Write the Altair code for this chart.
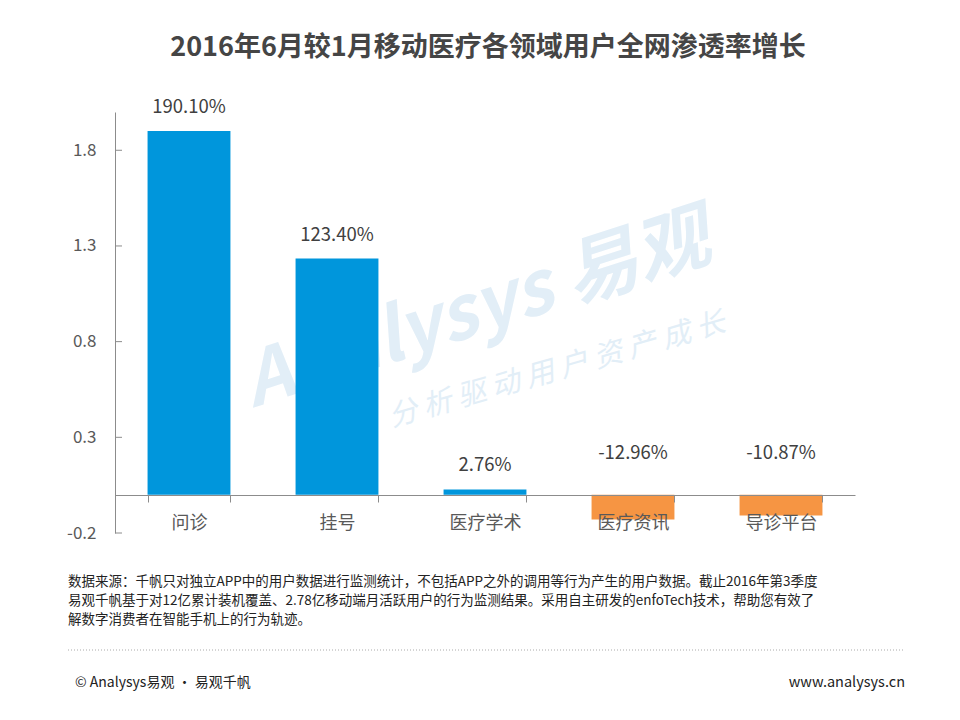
import altair as alt
import pandas as pd

# ---- data ----
categories = ["问诊", "挂号", "医疗学术", "医疗资讯", "导诊平台"]
values = [1.901, 1.234, 0.0276, -0.1296, -0.1087]
labels = ["190.10%", "123.40%", "2.76%", "-12.96%", "-10.87%"]
y_ticks = [-0.2, 0.3, 0.8, 1.3, 1.8]

title_text = "2016年6月较1月移动医疗各领域用户全网渗透率增长"
footnote_lines = [
    "数据来源：千帆只对独立APP中的用户数据进行监测统计，不包括APP之外的调用等行为产生的用户数据。截止2016年第3季度",
    "易观千帆基于对12亿累计装机覆盖、2.78亿移动端月活跃用户的行为监测结果。采用自主研发的enfoTech技术，帮助您有效了",
    "解数字消费者在智能手机上的行为轨迹。",
]
copyright_text = "© Analysys易观 · 易观千帆"
site_text = "www.analysys.cn"
watermark_main = "Analysys 易观"
watermark_sub = "分 析 驱 动 用 户 资 产 成 长"

FONT = "Noto Sans CJK SC"
BLUE = "#0096DC"
ORANGE = "#F69543"
AXIS = "#8c8c8c"

df = pd.DataFrame({"cat": categories, "value": values, "label": labels})
df_ticks = pd.DataFrame({"value": y_ticks})
one = alt.Data(values=[{}])

x_enc = alt.X(
    "cat:N",
    sort=categories,
    scale=alt.Scale(paddingInner=0.44, paddingOuter=0.22),
    axis=alt.Axis(
        title=None, orient="bottom", offset=-38, domainColor=AXIS, tickColor=AXIS,
        tickSize=7, tickBand="extent", labelFont=FONT, labelFontSize=18,
        labelColor="#595959", labelPadding=12, labelAngle=0, zindex=1,
    ),
)
y_scale = alt.Scale(domain=[-0.2, 2.0], nice=False, zero=False)
y_axis = alt.Axis(
    title=None, values=y_ticks, format=".1f", ticks=False, grid=False,
    domainColor=AXIS, labelPadding=19, labelFont=FONT, labelFontSize=17,
    labelColor="#595959", labelExpr="replace(datum.label, '\u2212', '-')",
)
y_enc = alt.Y("value:Q", scale=y_scale, axis=y_axis)

wm1 = alt.Chart(one).mark_text(
    text=watermark_main, font=FONT, fontSize=74, fontWeight="bold", fontStyle="italic",
    color="#e2eef7", angle=342, align="center", baseline="middle",
).encode(x=alt.value(362), y=alt.value(200))
wm2 = alt.Chart(one).mark_text(
    text=watermark_sub, font=FONT, fontSize=29, fontStyle="italic",
    color="#e2eef7", angle=344, align="center", baseline="middle",
).encode(x=alt.value(442), y=alt.value(258))

bars = alt.Chart(df).mark_bar().encode(
    x=x_enc,
    y=y_enc,
    y2=alt.datum(0),
    color=alt.condition(alt.datum.value > 0, alt.value(BLUE), alt.value(ORANGE)),
)

ticks = alt.Chart(df_ticks).mark_rule(color=AXIS, strokeWidth=1).encode(
    y=y_enc,
    x=alt.value(0),
    x2=alt.value(7),
)

pos_labels = alt.Chart(df).transform_filter(alt.datum.value > 0).mark_text(
    font=FONT, fontSize=18.5, color="#404040", dy=-24, baseline="middle",
).encode(x=alt.X("cat:N", sort=categories), y=alt.Y("value:Q"), text="label:N")

neg_labels = alt.Chart(df).transform_filter(alt.datum.value <= 0).mark_text(
    font=FONT, fontSize=18.5, color="#404040", dy=-42, baseline="middle",
).encode(x=alt.X("cat:N", sort=categories), y=alt.datum(0), text="label:N")

title = alt.Chart(one).mark_text(
    text=title_text, font=FONT, fontSize=27, fontWeight="bold", color="#454545",
    align="center", baseline="middle",
).encode(x=alt.value(373), y=alt.value(-64))

foot_layers = []
for i, line in enumerate(footnote_lines):
    foot_layers.append(
        alt.Chart(one).mark_text(
            text=line, font=FONT, fontSize=13.5, color="#222222",
            align="left", baseline="middle",
        ).encode(x=alt.value(-47), y=alt.value(470 + 19 * i))
    )

sep = alt.Chart(one).mark_rule(color="#aaaaaa", strokeDash=[1, 2]).encode(
    x=alt.value(-47), x2=alt.value(790), y=alt.value(538)
)
copy = alt.Chart(one).mark_text(
    text=copyright_text, font=FONT, fontSize=14, color="#222222",
    align="left", baseline="middle",
).encode(x=alt.value(-40), y=alt.value(571))
site = alt.Chart(one).mark_text(
    text=site_text, font=FONT, fontSize=14.5, color="#222222",
    align="right", baseline="middle",
).encode(x=alt.value(790), y=alt.value(571))

chart = alt.layer(
    wm1, wm2, bars, ticks, pos_labels, neg_labels, title, *foot_layers, sep, copy, site
).properties(
    width=740,
    height=421,
    autosize=alt.AutoSizeParams(type="none"),
    padding={"left": 107, "top": 104, "right": 97, "bottom": 179},
    background="white",
).configure_view(stroke=None)

chart.save("out.html", embed_options={"renderer": "svg", "actions": False})
